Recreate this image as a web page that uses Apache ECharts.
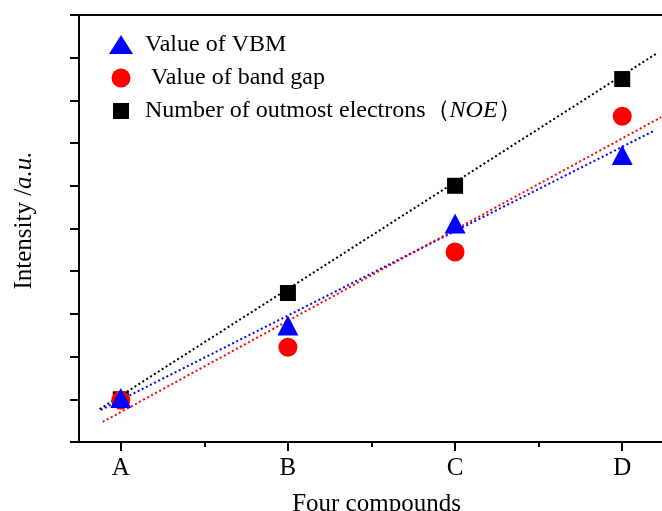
<!DOCTYPE html>
<html><head><meta charset="utf-8">
<script src="https://cdn.jsdelivr.net/npm/echarts@6/dist/echarts.min.js"></script>
<style>html,body{margin:0;padding:0;background:#fff}#c{width:662px;height:511px}</style>
</head><body><div id="c"></div>
<script>
var categories = ['A', 'B', 'C', 'D'];
var vbmValues = [1.03, 2.73, 5.12, 6.72];
var gapValues = [0.98, 2.22, 4.45, 7.63];
var noeValues = [1.0, 3.49, 6.0, 8.5];
// dotted linear-fit lines, endpoints (x in category index units)
var vbmFit = [[-0.12, 0.75], [3.186, 7.28]];
var gapFit = [[-0.108, 0.47], [3.234, 7.61]];
var noeFit = [[-0.126, 0.77], [3.21, 9.11]];
var majorTicks = [0, 1, 2, 3];
var minorTicks = [0.5, 1.5, 2.5];
var legendNames = ['Value of VBM', ' Value of band gap', 'Number of outmost electrons（NOE）'];

var FONT = 'Liberation Serif, Times New Roman, serif';
function pts(vals) { return vals.map(function (v, i) { return [i, v]; }); }

// legend icons padded inside a 24x24 box so their drawn sizes differ
var iconTri = 'path://M0 0M0 21L12 2L24 21ZM24 24';
var iconCircle = 'path://M0 0M2.5 12A9.5 9.5 0 1 1 21.5 12A9.5 9.5 0 1 1 2.5 12ZM24 24';
var iconSquare = 'path://M0 0M4 4H20V20H4ZM24 24';

var chart = echarts.init(document.getElementById('c'));
var axisLine = { show: true, onZero: false, lineStyle: { color: '#000', width: 2 } };
chart.setOption({
  animation: false,
  grid: { left: 79, top: 15, right: -2, bottom: 69, containLabel: false, outerBoundsMode: 'none' },
  legend: {
    orient: 'vertical', left: 104, top: 28,
    itemWidth: 24, itemHeight: 24, itemGap: 9,
    data: [
      { name: legendNames[0], icon: iconTri },
      { name: legendNames[1], icon: iconCircle },
      { name: legendNames[2], icon: iconSquare }
    ],
    formatter: function (n) {
      if (n.indexOf('NOE') >= 0) return '{n|Number of outmost electrons（}{i|NOE}{n|）}';
      return '{n|' + n + '}';
    },
    textStyle: {
      fontFamily: FONT, fontSize: 24, color: '#000', padding: [0, 0, 0, 7],
      rich: {
        n: { fontFamily: FONT, fontSize: 24, color: '#000' },
        i: { fontFamily: FONT, fontSize: 24, color: '#000', fontStyle: 'italic' }
      }
    }
  },
  xAxis: [{
    type: 'value', min: -0.25, max: 3.25, position: 'bottom',
    name: 'Four compounds', nameLocation: 'middle', nameGap: 50,
    nameTextStyle: { fontFamily: FONT, fontSize: 25, color: '#000', padding: [0, 0, 0, 10] },
    axisLine: axisLine,
    axisTick: { show: true, inside: false, length: 9, customValues: majorTicks, lineStyle: { color: '#000', width: 2 } },
    axisLabel: { customValues: majorTicks, margin: 14, fontFamily: FONT, fontSize: 25, color: '#000',
      formatter: function (v) { return categories[Math.round(v)]; } },
    splitLine: { show: false }
  }, {
    type: 'value', min: -0.25, max: 3.25, position: 'bottom', offset: 0,
    axisLine: { show: false, onZero: false },
    axisTick: { show: true, inside: false, length: 5, customValues: minorTicks, lineStyle: { color: '#000', width: 2 } },
    axisLabel: { show: false }, splitLine: { show: false }
  }, {
    type: 'value', min: -0.25, max: 3.25, position: 'top',
    axisLine: axisLine, axisTick: { show: false }, axisLabel: { show: false }, splitLine: { show: false }
  }],
  yAxis: [{
    type: 'value', min: 0, max: 10, interval: 1, position: 'left',
    name: '{n|Intensity /}{i|a.u.}', nameLocation: 'middle', nameGap: 42,
    nameTextStyle: {
      fontFamily: FONT, fontSize: 25, color: '#000', padding: [0, 0, 0, 16],
      rich: {
        n: { fontFamily: FONT, fontSize: 25, color: '#000' },
        i: { fontFamily: FONT, fontSize: 25, color: '#000', fontStyle: 'italic' }
      }
    },
    axisLine: axisLine,
    axisTick: { show: true, inside: false, length: 9, lineStyle: { color: '#000', width: 2 } },
    axisLabel: { show: false }, splitLine: { show: false }
  }, {
    type: 'value', min: 0, max: 10, position: 'right',
    axisLine: axisLine, axisTick: { show: false }, axisLabel: { show: false }, splitLine: { show: false }
  }],
  series: [
    { type: 'line', data: noeFit, symbol: 'none', silent: true, z: 1,
      lineStyle: { color: '#000', width: 2, type: [2, 2.6] } },
    { type: 'line', data: vbmFit, symbol: 'none', silent: true, z: 1,
      lineStyle: { color: '#0000ff', width: 2, type: [2, 2.6] } },
    { type: 'line', data: gapFit, symbol: 'none', silent: true, z: 1,
      lineStyle: { color: '#ff0000', width: 2, type: [2, 2.6] } },
    { name: legendNames[2], type: 'scatter', data: pts(noeValues), symbol: 'rect', symbolSize: 16, z: 3,
      itemStyle: { color: '#000', opacity: 1 } },
    { name: legendNames[1], type: 'scatter', data: pts(gapValues), symbol: 'circle', symbolSize: 19, z: 4,
      itemStyle: { color: '#ff0000', opacity: 1 } },
    { name: legendNames[0], type: 'scatter', data: pts(vbmValues), symbol: 'triangle', symbolSize: [21, 20], z: 5,
      itemStyle: { color: '#0000ff', opacity: 1 } }
  ]
});
</script></body></html>
